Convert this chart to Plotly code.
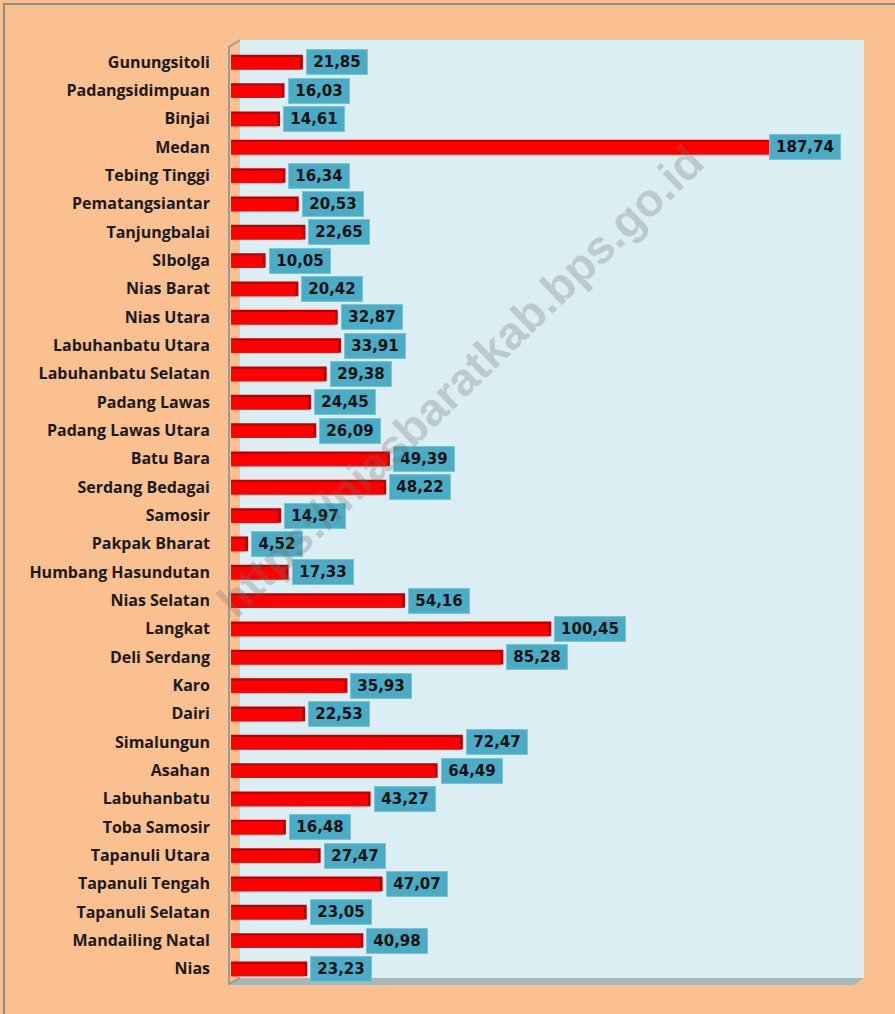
import plotly.graph_objects as go

# ---------------- data ----------------
regions = [
    "Gunungsitoli", "Padangsidimpuan", "Binjai", "Medan", "Tebing Tinggi",
    "Pematangsiantar", "Tanjungbalai", "SIbolga", "Nias Barat", "Nias Utara",
    "Labuhanbatu Utara", "Labuhanbatu Selatan", "Padang Lawas",
    "Padang Lawas Utara", "Batu Bara", "Serdang Bedagai", "Samosir",
    "Pakpak Bharat", "Humbang Hasundutan", "Nias Selatan", "Langkat",
    "Deli Serdang", "Karo", "Dairi", "Simalungun", "Asahan", "Labuhanbatu",
    "Toba Samosir", "Tapanuli Utara", "Tapanuli Tengah", "Tapanuli Selatan",
    "Mandailing Natal", "Nias",
]
values = [
    21.85, 16.03, 14.61, 187.74, 16.34,
    20.53, 22.65, 10.05, 20.42, 32.87,
    33.91, 29.38, 24.45,
    26.09, 49.39, 48.22, 14.97,
    4.52, 17.33, 54.16, 100.45,
    85.28, 35.93, 22.53, 72.47, 64.49, 43.27,
    16.48, 27.47, 47.07, 23.05,
    40.98, 23.23,
]
labels = [f"{v:.2f}".replace(".", ",") for v in values]

X_MAX = 200
W, H = 895, 1014
ML, MR, MT, MB = 231, 32, 48, 31
PW, PH = W - ML - MR, H - MT - MB

PEACH = "#FAC090"
WALL = "#DBEEF3"
RED = "#FF0000"
DARK_RED = "#B80000"
TEAL = "#4BACC6"


def px(x):
    return (x - ML) / PW


def py(y):
    return (H - MB - y) / PH


n = len(regions)
depth = 0.9  # 3-D side face of the bars, in axis units

fig = go.Figure()
fig.add_trace(go.Bar(
    y=regions, x=[v + depth for v in values], orientation="h",
    marker=dict(color=DARK_RED, line=dict(width=0)),
    width=0.52, offset=-0.26, hoverinfo="skip", showlegend=False,
))
fig.add_trace(go.Bar(
    y=regions, x=values, orientation="h",
    marker=dict(color=RED, line=dict(width=0)),
    width=0.44, offset=-0.18, showlegend=False,
))

annotations = []
for reg, v, lab in zip(regions, values, labels):
    box_w = 10 * len(lab) + 4
    overflow = (v + depth) * PW / X_MAX + box_w + 14 > PW
    annotations.append(dict(
        x=v + depth, y=reg, xref="x", yref="y", text=lab, showarrow=False,
        xanchor="right" if overflow else "left",
        xshift=14 if overflow else 3,
        bgcolor=TEAL, bordercolor="#7CC3D6", borderwidth=1, borderpad=3,
        width=box_w, align="center",
        font=dict(family="DejaVu Sans", size=15, color="#111111", weight="bold"),
    ))

# watermark
annotations.append(dict(
    x=px(460), y=py(381), xref="paper", yref="paper",
    text="https://niasbaratkab.bps.go.id", showarrow=False, textangle=-44,
    font=dict(family="Liberation Sans", size=46, color="rgba(110,110,110,0.3)",
              weight="bold"),
))

shapes = [
    # outer frame
    dict(type="rect", xref="paper", yref="paper", layer="below",
         x0=px(4), x1=px(905), y0=py(1030), y1=py(4),
         line=dict(color="#8C8C8C", width=2), fillcolor=PEACH),
    # back wall
    dict(type="rect", xref="paper", yref="paper", layer="below",
         x0=px(240), x1=px(864), y0=py(978), y1=py(40),
         line=dict(width=0), fillcolor=WALL),
    # floor
    dict(type="path", xref="paper", yref="paper", layer="below",
         path=f"M {px(230)},{py(985)} L {px(240)},{py(978)} L {px(864)},{py(978)} "
              f"L {px(854)},{py(985)} Z",
         line=dict(width=0), fillcolor="#A7B6B9"),
    # left wall edge
    dict(type="path", xref="paper", yref="paper", layer="below",
         path=f"M {px(240)},{py(40)} L {px(229)},{py(47)} L {px(229)},{py(984)} "
              f"L {px(240)},{py(978)}",
         line=dict(color="#9A9A9A", width=2)),
]

fig.update_layout(
    width=W, height=H,
    margin=dict(l=ML, r=MR, t=MT, b=MB),
    paper_bgcolor=PEACH, plot_bgcolor="rgba(0,0,0,0)",
    barmode="overlay",
    xaxis=dict(range=[0, X_MAX], visible=False, fixedrange=True),
    yaxis=dict(type="category", categoryorder="array", categoryarray=regions,
               range=[n - 0.5, -0.5], showgrid=False, zeroline=False,
               showline=False, ticks="", ticklabelstandoff=20, fixedrange=True,
               tickfont=dict(family="Open Sans", size=16, color="#1A1A1A",
                             weight="bold")),
    annotations=annotations, shapes=shapes,
    showlegend=False,
)

fig.write_html(
    "out.html",
    config={"displayModeBar": False},
    post_script="document.body.style.margin='0';"
                "document.body.style.background='" + PEACH + "';",
)
